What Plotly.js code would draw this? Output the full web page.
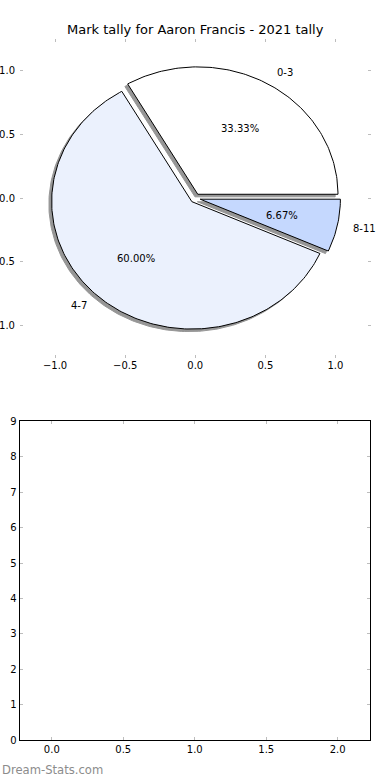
<!DOCTYPE html>
<html>
<head>
<meta charset="utf-8">
<script src="https://cdn.plot.ly/plotly-3.0.1.min.js"></script>
<style>
html,body{margin:0;padding:0;background:#fff;}
#chart{width:390px;height:780px;}
</style>
</head>
<body>
<div id="chart"></div>
<script>
// ---- data ----
const categories = ['0-3', '4-7', '8-11'];
const counts = [5, 9, 1];
const sliceColors = ['#ffffff', '#ebf1fd', '#c5d8fe'];
const titleText = 'Mark tally for Aaron Francis - 2021 tally';
const pieTickVals = [-1, -0.5, 0, 0.5, 1];
const pieTickText = ['\u22121.0', '\u22120.5', '0.0', '0.5', '1.0'];
const barXTickVals = [0, 0.5, 1, 1.5, 2];
const barXTickText = ['0.0', '0.5', '1.0', '1.5', '2.0'];
const barYTickVals = [0, 1, 2, 3, 4, 5, 6, 7, 8, 9];
const watermark = 'Dream-Stats.com';

// ---- geometry (matplotlib-style pie) ----
const explode = 0.036;
const shadowOff = -0.02;
const labelDist = 1.1, pctDist = 0.6;
const total = counts.reduce((a, b) => a + b, 0);

const shadowTraces = [], wedgeTraces = [], annotations = [];
let start = 0;
counts.forEach((v, i) => {
  const frac = v / total;
  const t1 = start * 2 * Math.PI, t2 = (start + frac) * 2 * Math.PI;
  const tm = (t1 + t2) / 2;
  const cx = explode * Math.cos(tm), cy = explode * Math.sin(tm);
  const xs = [cx], ys = [cy];
  const n = Math.max(8, Math.ceil(frac * 360));
  for (let k = 0; k <= n; k++) {
    const t = t1 + (t2 - t1) * k / n;
    xs.push(cx + Math.cos(t)); ys.push(cy + Math.sin(t));
  }
  xs.push(cx); ys.push(cy);
  shadowTraces.push({
    x: xs.map(x => x + shadowOff), y: ys.map(y => y + shadowOff),
    type: 'scatter', mode: 'lines', fill: 'toself', fillcolor: '#969696',
    line: {color: '#969696', width: 1}, hoverinfo: 'skip', showlegend: false,
    xaxis: 'x', yaxis: 'y'
  });
  wedgeTraces.push({
    x: xs, y: ys, type: 'scatter', mode: 'lines', fill: 'toself',
    fillcolor: sliceColors[i], line: {color: '#000000', width: 1},
    name: categories[i], hoverinfo: 'name', showlegend: false,
    xaxis: 'x', yaxis: 'y'
  });
  const xt = cx + labelDist * Math.cos(tm), yt = cy + labelDist * Math.sin(tm);
  annotations.push({
    x: xt, y: yt, xref: 'x', yref: 'y', text: categories[i], showarrow: false,
    xanchor: xt > 0 ? 'left' : 'right', yanchor: 'middle',
    font: {family: 'DejaVu Sans', size: 10, color: '#000'}
  });
  annotations.push({
    x: cx + pctDist * Math.cos(tm), y: cy + pctDist * Math.sin(tm),
    xref: 'x', yref: 'y', text: (frac * 100).toFixed(2) + '%', showarrow: false,
    xanchor: 'center', yanchor: 'middle',
    font: {family: 'DejaVu Sans', size: 10, color: '#000'}
  });
  start += frac;
});

annotations.push({
  x: 0, y: 1 - 770 / 780, xref: 'paper', yref: 'paper', text: watermark,
  showarrow: false, xanchor: 'left', yanchor: 'middle',
  font: {family: 'DejaVu Sans', size: 11.6, color: '#8c8c8c'}
});

const emptyTrace = {x: [], y: [], type: 'scatter', mode: 'markers',
  xaxis: 'x2', yaxis: 'y2', showlegend: false};

const tickFont = {family: 'DejaVu Sans', size: 10, color: '#000'};
const W = 390, H = 780;

const layout = {
  width: W, height: H,
  margin: {l: 0, r: 0, t: 0, b: 0},
  paper_bgcolor: '#fff', plot_bgcolor: 'rgba(0,0,0,0)',
  showlegend: false,
  title: {text: titleText, x: 195.25 / W, xanchor: 'center', y: 1 - 29.5 / H,
    yanchor: 'middle', yref: 'paper', xref: 'paper',
    font: {family: 'DejaVu Sans', size: 13, color: '#000'}},
  xaxis: {domain: [20 / W, 370.5 / W], range: [-1.25, 1.25], anchor: 'y',
    tickmode: 'array', tickvals: pieTickVals, ticktext: pieTickText,
    ticks: 'inside', ticklen: 3, tickwidth: 1, tickcolor: '#bdbdbd',
    showline: false, mirror: 'ticks', showgrid: false, zeroline: false,
    tickfont: tickFont, fixedrange: true},
  yaxis: {domain: [1 - 357.5 / H, 1 - 39 / H], range: [-1.25, 1.25], anchor: 'x',
    tickmode: 'array', tickvals: pieTickVals, ticktext: pieTickText,
    ticks: 'inside', ticklen: 3, tickwidth: 1, tickcolor: '#bdbdbd',
    ticklabelstandoff: 4,
    showline: false, mirror: 'ticks', showgrid: false, zeroline: false,
    tickfont: tickFont, fixedrange: true},
  xaxis2: {domain: [19.5 / W, 370 / W], range: [-0.226, 2.226], anchor: 'y2',
    tickmode: 'array', tickvals: barXTickVals, ticktext: barXTickText,
    ticks: 'inside', ticklen: 3, tickwidth: 1, tickcolor: '#bdbdbd',
    showline: true, linecolor: '#000', linewidth: 1, mirror: 'ticks',
    showgrid: false, zeroline: false, tickfont: tickFont, fixedrange: true},
  yaxis2: {domain: [1 - 740.3 / H, 1 - 421.3 / H], range: [0, 9], anchor: 'x2',
    tickmode: 'array', tickvals: barYTickVals,
    ticks: 'inside', ticklen: 3, tickwidth: 1, tickcolor: '#bdbdbd',
    showline: true, linecolor: '#000', linewidth: 1, mirror: 'ticks',
    showgrid: false, zeroline: false, tickfont: tickFont, fixedrange: true},
  annotations: annotations
};

Plotly.newPlot('chart', shadowTraces.concat(wedgeTraces, [emptyTrace]), layout,
  {displayModeBar: false, staticPlot: true});
</script>
</body>
</html>
